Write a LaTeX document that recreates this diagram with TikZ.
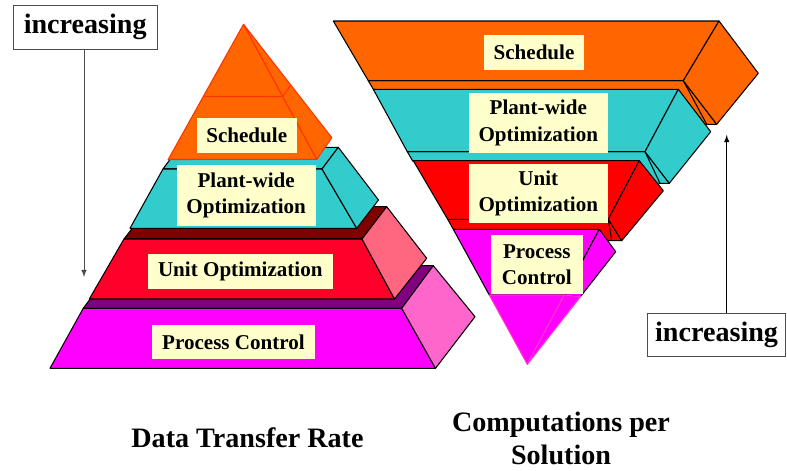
\documentclass[tikz,border=0pt]{standalone}
\usepackage{fontspec}
\setmainfont{Liberation Serif}

\definecolor{schedorange}{HTML}{FF6600}
\definecolor{schededge}{HTML}{FF3300}
\definecolor{plantcyan}{HTML}{33CCCC}
\definecolor{unitred}{HTML}{FF0028}
\definecolor{unitredR}{HTML}{FF0000}
\definecolor{unittop}{HTML}{800000}
\definecolor{unitside}{HTML}{FF6680}
\definecolor{proctop}{HTML}{800080}
\definecolor{procmag}{HTML}{FF00FF}
\definecolor{procside}{HTML}{FF66CC}
\definecolor{procedge}{HTML}{FF33CC}
\definecolor{lblfill}{HTML}{FFFFCC}

\begin{document}
\begin{tikzpicture}[x=0.02cm, y=-0.02cm,
	face/.style={draw=black, line width=0.6pt, line join=round},
	tip/.style={line width=0.6pt, line join=round},
	lbl/.style={fill=lblfill, inner sep=0pt, align=center, font=\fontsize{12}{15}\selectfont\bfseries},
	incbox/.style={draw=black!70, fill=white, inner sep=0pt, font=\fontsize{16}{19}\selectfont\bfseries},
	caption/.style={align=center, font=\fontsize{16}{18.8}\selectfont\bfseries}]
	\useasboundingbox (0,0) rectangle (787,470);

	% left pyramid, bottom layer first
	\filldraw[face, fill=proctop] (83.3,308.3) -- (401.7,308.3) -- (433.3,265.7) -- (114.9,265.7) -- cycle;
	\filldraw[face, fill=procmag] (83.3,308.3) -- (401.7,308.3) -- (435.5,368.3) -- (50,368.3) -- cycle;
	\filldraw[face, fill=procside] (401.7,308.3) -- (433.3,265.7) -- (475,316.7) -- (435.5,368.3) -- cycle;

	\filldraw[face, fill=unittop] (124,239) -- (362,239) -- (386.7,206.7) -- (149,206.7) -- cycle;
	\filldraw[face, fill=unitred] (124,239) -- (362,239) -- (394.5,299) -- (89.3,299) -- cycle;
	\filldraw[face, fill=unitside] (362,239) -- (386.7,206.7) -- (426.7,258.3) -- (394.5,299) -- cycle;

	\filldraw[face, fill=plantcyan] (163,169) -- (322,169) -- (338.3,147.3) -- (179,147.3) -- cycle;
	\filldraw[face, fill=plantcyan] (163,169) -- (322,169) -- (356.7,228.3) -- (130,228.3) -- cycle;
	\filldraw[face, fill=plantcyan] (322,169) -- (338.3,147.3) -- (378.5,200) -- (356.7,228.3) -- cycle;

	\filldraw[tip, draw=schededge, fill=schedorange] (243.5,24.3) -- (168.2,159.5) -- (316.8,159.3) -- cycle;
	\filldraw[tip, draw=schededge, fill=schedorange] (243.5,24.3) -- (316.8,159.3) -- (331.8,137.7) -- cycle;
	\draw[tip, schededge] (203.3,96.5) -- (282.7,96.5) -- (290.7,85);

	\node[lbl, minimum width=2cm, minimum height=0.69cm] (schedL) at (246.7,135.5) {Schedule};
	\node[lbl, minimum width=2.78cm, minimum height=1.21cm] (plantL) at (246.2,195.4) {Plant-wide\\Optimization};
	\node[lbl, minimum width=3.69cm, minimum height=0.7cm] (unitL) at (240.3,271.5) {Unit Optimization};
	\node[lbl, minimum width=3.26cm, minimum height=0.69cm] (procL) at (233.5,342.2) {Process Control};

	% right pyramid, top layer first
	\filldraw[face, fill=schedorange] (368.3,80.7) -- (683.3,80.7) -- (716.7,124.3) -- (706.7,124.3) -- (373.3,89.3) -- cycle;
	\draw[face] (683.3,80.7) -- (706.7,124.3);
	\filldraw[face, fill=schedorange] (333.3,21) -- (719,21) -- (683.3,80.7) -- (368.3,80.7) -- cycle;
	\filldraw[face, fill=schedorange] (719,21) -- (758.3,73.3) -- (716.7,124.3) -- (683.3,80.7) -- cycle;

	\filldraw[face, fill=plantcyan] (407.3,151.7) -- (645,151.7) -- (669.3,183.3) -- (660,183.3) -- (412.7,161) -- cycle;
	\draw[face] (645,151.7) -- (660,183.3);
	\filldraw[face, fill=plantcyan] (373.3,89.3) -- (678.3,89.3) -- (645,151.7) -- (407.3,151.7) -- cycle;
	\filldraw[face, fill=plantcyan] (678.3,89.3) -- (710.7,131.7) -- (669.3,183.3) -- (645,151.7) -- cycle;

	\filldraw[face, fill=unitredR] (447.7,219.3) -- (608.3,219.3) -- (621.7,240.7) -- (611.7,240.7) -- (453.3,229.3) -- cycle;
	\draw[face] (608.3,219.3) -- (611.7,240.7);
	\filldraw[face, fill=unitredR] (413.3,160.7) -- (639.3,160.7) -- (608.3,219.3) -- (447.7,219.3) -- cycle;
	\filldraw[face, fill=unitredR] (639.3,160.7) -- (663.3,190.7) -- (621.7,240.7) -- (608.3,219.3) -- cycle;

	\filldraw[face, fill=procmag] (453.3,229.3) -- (599.3,229.3) -- (564.3,295) -- (489.3,295) -- cycle;
	\filldraw[face, fill=procmag] (599.3,229.3) -- (615.7,251.7) -- (580.4,296.7) -- (564.3,295) -- cycle;
	\filldraw[tip, draw=procedge, fill=procmag] (489.3,295) -- (564.3,295) -- (527.3,364.3) -- cycle;
	\filldraw[tip, draw=procedge, fill=procmag] (564.3,295) -- (580.4,296.7) -- (527.3,364.3) -- cycle;

	\node[lbl, minimum width=2cm, minimum height=0.7cm] (schedR) at (534,52.5) {Schedule};
	\node[lbl, minimum width=2.77cm, minimum height=1.19cm] (plantR) at (538.3,123) {Plant-wide\\Optimization};
	\node[lbl, minimum width=2.77cm, minimum height=1.19cm] (unitR) at (538.3,193.7) {Unit\\Optimization};
	\node[lbl, minimum width=1.83cm, minimum height=1.18cm] (procR) at (536.8,264.5) {Process\\Control};

	% increasing arrows
	\node[incbox, minimum width=2.87cm, minimum height=0.89cm] (incL) at (85.2,27.2) {increasing};
	\coordinate (incLend) at (84,277);
	\draw[black!70, ->, >=latex] (incL.south -| incLend) -- (incLend);

	\node[incbox, minimum width=2.76cm, minimum height=0.87cm] (incR) at (716.6,335) {increasing};
	\coordinate (incRend) at (726.7,135);
	\draw[->, >=latex] (incR.north -| incRend) -- (incRend);

	\node[caption] (rateCap) at (247.5,438) {Data Transfer Rate};
	\node[caption] (compCap) at (561,438.5) {Computations per\\Solution};
\end{tikzpicture}
\end{document}
